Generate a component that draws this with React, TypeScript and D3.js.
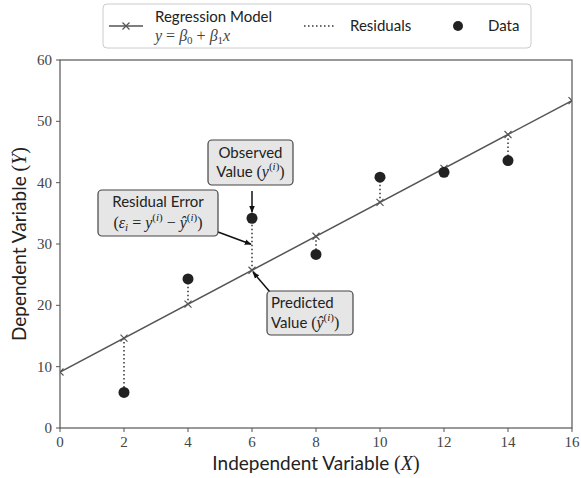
import React from "react";
import * as d3 from "d3";

const xData = [2, 4, 6, 8, 10, 12, 14];
const yData = [5.8, 24.3, 34.2, 28.3, 40.9, 41.7, 43.6];
const beta0 = 9.13;
const beta1 = 2.766;
const lineXs = [0, 2, 4, 6, 8, 10, 12, 14, 16];
const xTicks = [0, 2, 4, 6, 8, 10, 12, 14, 16];
const yTicks = [0, 10, 20, 30, 40, 50, 60];

const W = 581, H = 478;
const M = { left: 60, right: 572, top: 60, bottom: 428 };
const SANS = "Lato, 'Open Sans', sans-serif";
const SERIF = "'Liberation Serif', 'DejaVu Serif', serif";
const TXT = "#222";
const GRAY = "#555";
const MS = 16; // math font size
const SS = 11; // script size

export default function App() {
  const x = d3.scaleLinear().domain([0, 16]).range([M.left, M.right]);
  const y = d3.scaleLinear().domain([0, 60]).range([M.bottom, M.top]);
  const pred = (v: number) => beta0 + beta1 * v;
  const line = d3.line<number>().x((d) => x(d)).y((d) => y(pred(d)));

  const xMark = (cx: number, cy: number, s = 3.5, key?: any) => (
    <path key={key} d={`M${cx - s},${cy - s}L${cx + s},${cy + s}M${cx - s},${cy + s}L${cx + s},${cy - s}`} stroke={GRAY} strokeWidth={1.2} fill="none" />
  );

  const i6 = xData.indexOf(6);
  const obsPx = [x(6), y(yData[i6])];
  const predPx = [x(6), y(pred(6))];
  const midPx = [x(6), (obsPx[1] + predPx[1]) / 2];

  const supI = (
    <>
      <tspan dy={-7} fontSize={SS}> (</tspan>
      <tspan fontStyle="italic" fontSize={SS}>i</tspan>
      <tspan fontSize={SS}>)</tspan>
    </>
  );

  return (
    <svg width={W} height={H} style={{ position: "absolute", left: 0, top: 0, background: "#fff" }}>
      <defs>
        <clipPath id="plotclip">
          <rect x={M.left} y={M.top} width={M.right - M.left} height={M.bottom - M.top} />
        </clipPath>
        <marker id="arr" viewBox="0 0 10 10" refX="9" refY="5" markerWidth="7" markerHeight="7" orient="auto-start-reverse" markerUnits="userSpaceOnUse">
          <path d="M0,1L10,5L0,9z" fill="#111" />
        </marker>
      </defs>

      {/* residuals */}
      {xData.map((xv, i) => (
        <line key={"r" + i} x1={x(xv)} x2={x(xv)} y1={y(pred(xv))} y2={y(yData[i])} stroke="#333" strokeWidth={1.5} strokeDasharray="1.5,2.5" />
      ))}

      {/* regression line */}
      <g clipPath="url(#plotclip)">
        <path d={line([0, 16]) || ""} stroke={GRAY} strokeWidth={1.5} fill="none" />
        {lineXs.map((v, i) => xMark(x(v), y(pred(v)), 3.5, "m" + i))}
      </g>

      {/* data points */}
      {xData.map((xv, i) => (
        <circle key={"d" + i} cx={x(xv)} cy={y(yData[i])} r={5.5} fill="#222" />
      ))}

      {/* frame */}
      <rect x={M.left} y={M.top} width={M.right - M.left} height={M.bottom - M.top} fill="none" stroke={GRAY} strokeWidth={1.2} />

      {/* x ticks */}
      {xTicks.map((t) => (
        <g key={"xt" + t}>
          <line x1={x(t)} x2={x(t)} y1={M.bottom} y2={M.bottom + 4} stroke={GRAY} strokeWidth={1} />
          <text x={x(t)} y={M.bottom + 19} textAnchor="middle" fontFamily={SERIF} fontSize={15} fill="#444">{t}</text>
        </g>
      ))}
      {/* y ticks */}
      {yTicks.map((t) => (
        <g key={"yt" + t}>
          <line x1={M.left - 4} x2={M.left} y1={y(t)} y2={y(t)} stroke={GRAY} strokeWidth={1} />
          <text x={M.left - 8} y={y(t) + 5} textAnchor="end" fontFamily={SERIF} fontSize={15} fill="#444">{t}</text>
        </g>
      ))}

      {/* axis labels */}
      <text x={(M.left + M.right) / 2} y={470} textAnchor="middle" fontFamily={SANS} fontSize={19} fill={TXT}>
        Independent Variable <tspan fontFamily={SERIF} fontSize={20}>(</tspan><tspan fontFamily={SERIF} fontSize={20} fontStyle="italic">X</tspan><tspan fontFamily={SERIF} fontSize={20}>)</tspan>
      </text>
      <text transform={`translate(26,${(M.top + M.bottom) / 2}) rotate(-90)`} textAnchor="middle" fontFamily={SANS} fontSize={19} fill={TXT}>
        Dependent Variable <tspan fontFamily={SERIF} fontSize={20}>(</tspan><tspan fontFamily={SERIF} fontSize={20} fontStyle="italic">Y</tspan><tspan fontFamily={SERIF} fontSize={20}>)</tspan>
      </text>

      {/* annotations */}
      <line x1={252} y1={191} x2={obsPx[0]} y2={obsPx[1] - 6} stroke="#111" strokeWidth={1.5} markerEnd="url(#arr)" />
      <rect x={208} y={140} width={85} height={45} rx={4} fill="#e6e6e6" stroke="#444" strokeWidth={1.2} />
      <text x={250.5} y={158} textAnchor="middle" fontFamily={SANS} fontSize={15} fill={TXT}>Observed</text>
      <text x={250.5} y={177} textAnchor="middle" fontFamily={SANS} fontSize={15} fill={TXT}>
        Value <tspan fontFamily={SERIF} fontSize={MS}>(</tspan><tspan fontFamily={SERIF} fontSize={MS} fontStyle="italic">y</tspan><tspan fontFamily={SERIF} dy={-7} fontSize={SS}>(</tspan><tspan fontFamily={SERIF} fontStyle="italic" fontSize={SS}>i</tspan><tspan fontFamily={SERIF} fontSize={SS}>)</tspan><tspan fontFamily={SERIF} fontSize={MS} dy={7}>)</tspan>
      </text>

      <line x1={218} y1={232} x2={midPx[0] - 1} y2={midPx[1]} stroke="#111" strokeWidth={1.5} markerEnd="url(#arr)" />
      <rect x={98} y={190} width={120} height={46} rx={4} fill="#e6e6e6" stroke="#444" strokeWidth={1.2} />
      <text x={158} y={207} textAnchor="middle" fontFamily={SANS} fontSize={15} fill={TXT}>Residual Error</text>
      <text x={158} y={228} textAnchor="middle" fontFamily={SERIF} fontSize={MS} fill={TXT}>
        (<tspan fontStyle="italic">ε</tspan><tspan fontStyle="italic" fontSize={SS} dy={3}>i</tspan><tspan dy={-3}> = </tspan><tspan fontStyle="italic">y</tspan><tspan dy={-7} fontSize={SS}>(</tspan><tspan fontStyle="italic" fontSize={SS}>i</tspan><tspan fontSize={SS}>)</tspan><tspan dy={7}> − </tspan><tspan fontStyle="italic">ŷ</tspan><tspan dy={-7} fontSize={SS}>(</tspan><tspan fontStyle="italic" fontSize={SS}>i</tspan><tspan fontSize={SS}>)</tspan><tspan dy={7}>)</tspan>
      </text>

      <line x1={270} y1={292} x2={predPx[0] + 1} y2={predPx[1] + 2} stroke="#111" strokeWidth={1.5} markerEnd="url(#arr)" />
      <rect x={267} y={291} width={86} height={44} rx={4} fill="#e6e6e6" stroke="#444" strokeWidth={1.2} />
      <text x={271} y={308} fontFamily={SANS} fontSize={15} fill={TXT}>Predicted</text>
      <text x={271} y={328} fontFamily={SANS} fontSize={15} fill={TXT}>
        Value <tspan fontFamily={SERIF} fontSize={MS}>(</tspan><tspan fontFamily={SERIF} fontSize={MS} fontStyle="italic">ŷ</tspan><tspan fontFamily={SERIF} dy={-7} fontSize={SS}>(</tspan><tspan fontFamily={SERIF} fontStyle="italic" fontSize={SS}>i</tspan><tspan fontFamily={SERIF} fontSize={SS}>)</tspan><tspan fontFamily={SERIF} fontSize={MS} dy={7}>)</tspan>
      </text>

      {/* legend */}
      <rect x={103} y={4} width={428} height={44} rx={4} fill="#fff" stroke="#ccc" strokeWidth={1} />
      <line x1={109} x2={143} y1={26} y2={26} stroke={GRAY} strokeWidth={1.5} />
      {xMark(126, 26, 3.5)}
      <text x={155} y={22} fontFamily={SANS} fontSize={15} fill={TXT}>Regression Model</text>
      <text x={155} y={41} fontFamily={SERIF} fontSize={MS} fill="#444">
        <tspan fontStyle="italic">y</tspan> = <tspan fontStyle="italic">β</tspan><tspan fontSize={SS} dy={3}>0</tspan><tspan dy={-3}> + </tspan><tspan fontStyle="italic">β</tspan><tspan fontSize={SS} dy={3}>1</tspan><tspan dy={-3} fontStyle="italic">x</tspan>
      </text>
      <line x1={304} x2={335} y1={26} y2={26} stroke="#333" strokeWidth={1.5} strokeDasharray="1.5,2.5" />
      <text x={350} y={31} fontFamily={SANS} fontSize={15} fill={TXT}>Residuals</text>
      <circle cx={458} cy={26} r={5} fill="#222" />
      <text x={488} y={31} fontFamily={SANS} fontSize={15} fill={TXT}>Data</text>
    </svg>
  );
}
